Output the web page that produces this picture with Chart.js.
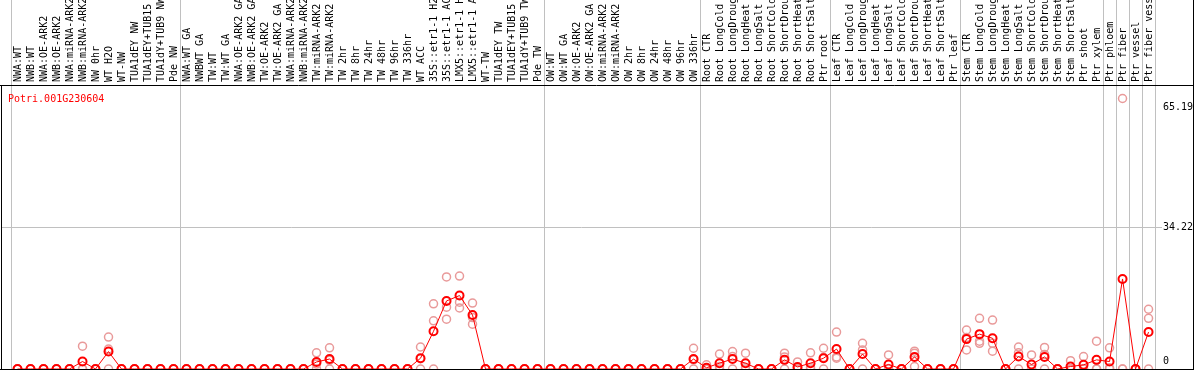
<!DOCTYPE html>
<html>
<head>
<meta charset="utf-8">
<title>Potri.001G230604</title>
<script src="https://cdn.jsdelivr.net/npm/chart.js@4.4.1/dist/chart.umd.min.js"></script>
<style>
    html, body { margin: 0; padding: 0; background: #fff; overflow: hidden; }
    canvas { display: block; }
</style>
</head>
<body>
<canvas id="exprChart" width="1194" height="370"></canvas>
<script>
const geneName = 'Potri.001G230604';

const sampleLabels = [
    // NW
    'NWA:WT', 'NWB:WT', 'NWA:OE-ARK2', 'NWB:OE-ARK2', 'NWA:miRNA-ARK2', 'NWB:miRNA-ARK2', 'NW 0hr',
    'WT H2O', 'WT-NW', 'TUA1dEY NW', 'TUA1dEY+TUB15 NW', 'TUA1dY+TUB9 NW', 'Pde NW',
    // TW
    'NWA:WT GA', 'NWBWT GA', 'TW:WT', 'TW:WT GA', 'NWA:OE-ARK2 GA', 'NWB:OE-ARK2 GA', 'TW:OE-ARK2',
    'TW:OE-ARK2 GA', 'NWA:miRNA-ARK2', 'NWB:miRNA-ARK2', 'TW:miRNA-ARK2', 'TW:miRNA-ARK2', 'TW 2hr',
    'TW 8hr', 'TW 24hr', 'TW 48hr', 'TW 96hr', 'TW 336hr', 'WT ACC', '35S::etr1-1 H2O', '35S::etr1-1 ACC',
    'LMX5::etr1-1 H2O', 'LMX5::etr1-1 ACC', 'WT-TW', 'TUA1dEY TW', 'TUA1dEY+TUB15 TW', 'TUA1dY+TUB9 TW', 'Pde TW',
    // OW
    'OW:WT', 'OW:WT GA', 'OW:OE-ARK2', 'OW:OE-ARK2 GA', 'OW:miRNA-ARK2', 'OW:miRNA-ARK2',
    'OW 2hr', 'OW 8hr', 'OW 24hr', 'OW 48hr', 'OW 96hr', 'OW 336hr',
    // root
    'Root CTR', 'Root LongCold', 'Root LongDrought', 'Root LongHeat', 'Root LongSalt',
    'Root ShortCold', 'Root ShortDrought', 'Root ShortHeat', 'Root ShortSalt', 'Ptr root',
    // leaf
    'Leaf CTR', 'Leaf LongCold', 'Leaf LongDrought', 'Leaf LongHeat', 'Leaf LongSalt',
    'Leaf ShortCold', 'Leaf ShortDrought', 'Leaf ShortHeat', 'Leaf ShortSalt', 'Ptr leaf',
    // stem
    'Stem CTR', 'Stem LongCold', 'Stem LongDrought', 'Stem LongHeat', 'Stem LongSalt',
    'Stem ShortCold', 'Stem ShortDrought', 'Stem ShortHeat', 'Stem ShortSalt', 'Ptr shoot', 'Ptr xylem',
    // cell types
    'Ptr phloem', 'Ptr fiber', 'Ptr vessel', 'Ptr fiber vessel'
];

// first index of each group (last entry = total count)
const groupStarts = [0, 13, 41, 53, 63, 73, 84, 85, 86, 87, 88];

const meanValues = [
    0, 0, 0, 0, 0, 1.8, 0, 4.2, 0, 0, 0, 0, 0,
    0, 0, 0, 0, 0, 0, 0, 0, 0, 0, 1.7, 2.4, 0, 0, 0, 0, 0, 0, 2.6, 9.1, 16.4, 17.7, 13.0, 0, 0, 0, 0, 0,
    0, 0, 0, 0, 0, 0, 0, 0, 0, 0, 0, 2.4,
    0.3, 1.4, 2.4, 1.4, 0, 0, 2.2, 0.5, 1.4, 2.6,
    4.8, 0, 3.6, 0, 1.1, 0, 2.9, 0, 0, 0,
    7.2, 8.4, 7.4, 0, 3.0, 1.1, 2.9, 0, 0.6, 1.0, 2.2,
    1.8, 21.7, 0, 8.9
];

const rep1 = [
    0, 0, 0, 0, 0, 5.5, 0, 7.7, 0, 0, 0, 0, 0,
    0, 0, 0, 0, 0, 0, 0, 0, 0, 0, 3.9, 5.1, 0, 0, 0, 0, 0, 0, 5.3, 15.7, 22.2, 22.4, 15.9, 0, 0, 0, 0, 0,
    0, 0, 0, 0, 0, 0, 0, 0, 0, 0, 0, 5.0,
    1.0, 3.6, 4.2, 3.8, 0, 0, 3.8, 1.7, 3.9, 5.0,
    8.9, 0, 6.2, 0, 3.4, 0, 4.3, 0, 0, 0,
    9.4, 12.2, 11.8, 0, 5.3, 3.4, 5.2, 0, 2.0, 3.0, 6.7,
    5.1, 65.19, 0, 14.4
];

const rep2 = [
    0, 0, 0, 0, 0, 0, 0, 4.8, 0, 0, 0, 0, 0,
    0, 0, 0, 0, 0, 0, 0, 0, 0, 0, 1.2, 2.1, 0, 0, 0, 0, 0, 0, 2.5, 11.6, 14.9, 16.1, 12.4, 0, 0, 0, 0, 0,
    0, 0, 0, 0, 0, 0, 0, 0, 0, 0, 0, 2.2,
    0, 0.6, 3.0, 0.4, 0, 0, 2.9, 0, 0.4, 2.8,
    2.9, 0, 4.6, 0, 0, 0, 3.8, 0, 0, 0,
    7.6, 6.7, 6.2, 0, 3.9, 0, 3.5, 0, 0, 0, 0,
    0.3, 0, 0, 12.2
];

const rep3 = [
    0, 0, 0, 0, 0, 0, 0, 0, 0, 0, 0, 0, 0,
    0, 0, 0, 0, 0, 0, 0, 0, 0, 0, 0, 0, 0, 0, 0, 0, 0, 0, 0, 0, 12.0, 14.7, 10.8, 0, 0, 0, 0, 0,
    0, 0, 0, 0, 0, 0, 0, 0, 0, 0, 0, 0,
    0, 0, 0, 0, 0, 0, 0, 0, 0, 0,
    2.6, 0, 0, 0, 0, 0, 0.6, 0, 0, 0,
    4.6, 6.2, 4.3, 0, 0, 0, 0, 0, 0, 0, 0,
    0, 0, 0, 0
];

const yTicks = [0, 34.22, 65.19];
const yMax = 68.44;

const toPoints = arr => arr.map((v, i) => ({ x: i, y: v }));

const FONT = '10px "DejaVu Sans Mono", "Liberation Mono", monospace';

// draws the frame, separators, rotated sample names and the value labels
const framePlugin = {
    id: 'frame',
    beforeDatasetsDraw(chart) {
        const ctx = chart.ctx;
        const area = chart.chartArea;
        const xs = chart.scales.x;
        const ys = chart.scales.y;
        ctx.save();

        ctx.fillStyle = '#fff';
        ctx.fillRect(0, 0, chart.width, chart.height);

        ctx.lineWidth = 1;
        ctx.strokeStyle = '#c0c0c0';
        groupStarts.forEach(g => {
            const px = Math.round(xs.getPixelForValue(g - 0.5)) + 0.5;
            ctx.beginPath();
            ctx.moveTo(px, 0);
            ctx.lineTo(px, chart.height);
            ctx.stroke();
        });

        const lastEdge = xs.getPixelForValue(sampleLabels.length - 0.5);
        const gy = Math.round(ys.getPixelForValue(yTicks[1])) + 0.5;
        ctx.beginPath();
        ctx.moveTo(area.left, gy);
        ctx.lineTo(lastEdge + 7, gy);
        ctx.stroke();

        // black frame
        ctx.strokeStyle = '#000';
        ctx.beginPath();
        ctx.moveTo(0, area.top + 0.5);
        ctx.lineTo(area.right, area.top + 0.5);
        ctx.moveTo(0, area.bottom + 0.5);
        ctx.lineTo(area.right, area.bottom + 0.5);
        ctx.moveTo(area.left + 0.5, area.top);
        ctx.lineTo(area.left + 0.5, chart.height);
        ctx.moveTo(area.right + 0.5, 0);
        ctx.lineTo(area.right + 0.5, chart.height);
        ctx.stroke();

        // sample names, rotated
        ctx.font = FONT;
        ctx.fillStyle = '#000';
        ctx.textAlign = 'left';
        ctx.textBaseline = 'middle';
        sampleLabels.forEach((s, i) => {
            ctx.save();
            ctx.translate(Math.round(xs.getPixelForValue(i)), area.top - 3);
            ctx.rotate(-Math.PI / 2);
            ctx.fillText(s, 0, 0);
            ctx.restore();
        });

        // gene name
        ctx.fillStyle = '#ff0000';
        ctx.textBaseline = 'alphabetic';
        ctx.fillText(geneName, 8, area.top + 17);

        // value labels on the right
        ctx.fillStyle = '#000';
        ctx.textBaseline = 'middle';
        yTicks.forEach(v => {
            let py = ys.getPixelForValue(v);
            py = Math.min(Math.max(py, area.top + 22), area.bottom - 8);
            ctx.fillText(String(v), lastEdge + 8, py);
        });

        ctx.restore();
    }
};

const repStyle = {
    showLine: false,
    pointRadius: 4,
    pointBorderWidth: 1.5,
    pointBorderColor: '#e99a9a',
    pointBackgroundColor: 'rgba(0,0,0,0)'
};

new Chart(document.getElementById('exprChart').getContext('2d'), {
    type: 'scatter',
    data: {
        datasets: [
            {
                label: 'mean',
                data: toPoints(meanValues),
                showLine: true,
                borderColor: '#ff0000',
                borderWidth: 1,
                pointRadius: 4,
                pointBorderWidth: 2,
                pointBorderColor: '#ff0000',
                pointBackgroundColor: 'rgba(0,0,0,0)'
            },
            { label: 'rep1', data: toPoints(rep1), ...repStyle },
            { label: 'rep2', data: toPoints(rep2), ...repStyle },
            { label: 'rep3', data: toPoints(rep3), ...repStyle }
        ]
    },
    options: {
        responsive: false,
        animation: false,
        events: [],
        layout: { autoPadding: false, padding: { top: 85, left: 1, right: 1, bottom: 1 } },
        plugins: {
            legend: { display: false },
            tooltip: { enabled: false }
        },
        scales: {
            x: { type: 'linear', display: false, min: -1.27, max: 90.42 },
            y: { type: 'linear', display: false, min: 0, max: yMax }
        }
    },
    plugins: [framePlugin]
});
</script>
</body>
</html>
